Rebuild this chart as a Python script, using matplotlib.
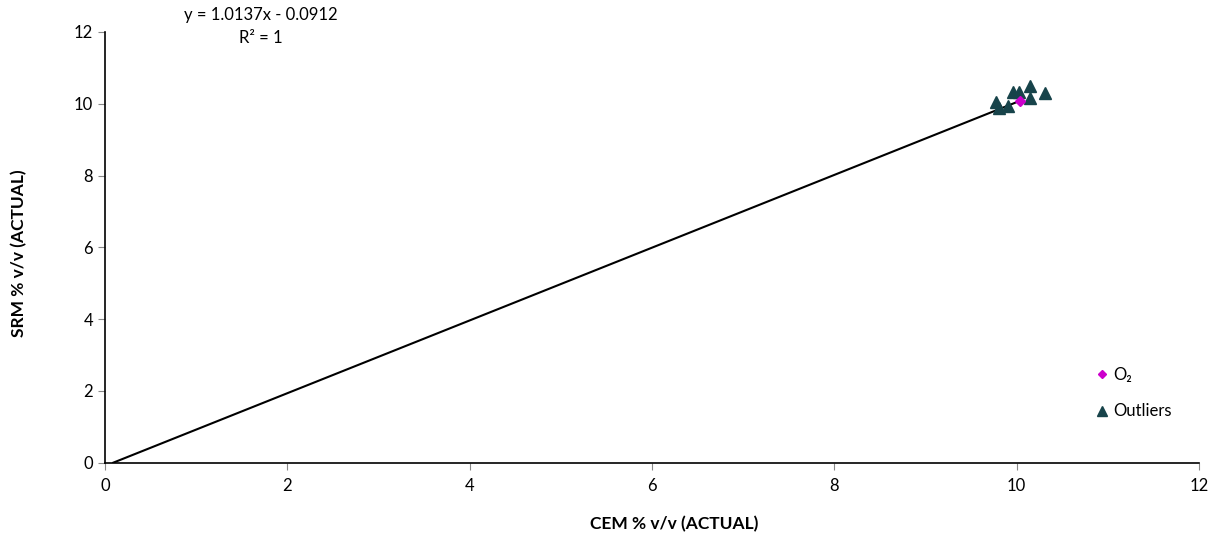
import matplotlib.pyplot as plt

plt.rcParams['font.family'] = ['Lato', 'DejaVu Sans']

# --- DATA ---
o2_x = [10.04]
o2_y = [10.09]
outlier_x = [9.77, 9.81, 9.90, 9.96, 10.03, 10.15, 10.15, 10.31]
outlier_y = [10.06, 9.87, 9.93, 10.32, 10.32, 10.49, 10.15, 10.30]

slope = 1.0137
intercept = -0.0912
trend_x = [0.09, 10.04]

W, H = 1218, 537
fig = plt.figure(figsize=(W / 100, H / 100), dpi=100)
ax = fig.add_axes([105 / W, 1 - 462.7 / H, 1094 / W, 430.7 / H])

trend_y = [slope * x + intercept for x in trend_x]
ax.plot(trend_x, trend_y, color='black', lw=1.5, zorder=2)
ax.plot(outlier_x, outlier_y, linestyle='none', marker='^', markersize=9,
        color='#17434A', label='Outliers', zorder=3)
ax.plot(o2_x, o2_y, linestyle='none', marker='D', markersize=5,
        color='#CC00CC', label='O₂', zorder=4)

ax.set_xlim(0, 12)
ax.set_ylim(0, 12)
ax.set_xticks(range(0, 13, 2))
ax.set_yticks(range(0, 13, 2))
ax.tick_params(direction='out', length=5, color='#888888', labelsize=12)
ax.tick_params(axis='x', pad=6)
for side in ['top', 'right']:
    ax.spines[side].set_visible(False)
for side in ['left', 'bottom']:
    ax.spines[side].set_linewidth(1.2)

# axis titles placed in pixel terms
fig.text(674 / W, 1 - 524 / H, 'CEM % v/v (ACTUAL)', ha='center', va='center',
         fontsize=12.5, fontweight='bold')
fig.text(19 / W, 1 - 253 / H, 'SRM % v/v (ACTUAL)', ha='center', va='center',
         rotation=90, fontsize=12.5, fontweight='bold')

# trendline annotation
fig.text(261 / W, 1 - 15 / H, f'y = {slope:.4f}x - {abs(intercept):.4f}',
         ha='center', va='center', fontsize=12)
fig.text(261 / W, 1 - 38 / H, 'R² = 1', ha='center', va='center', fontsize=12)

handles, labels = ax.get_legend_handles_labels()
leg = ax.legend(handles[::-1], labels[::-1], loc='upper left', frameon=False,
                bbox_to_anchor=(1085 / W, 1 - 360 / H),
                bbox_transform=fig.transFigure, fontsize=12, markerscale=0.8,
                handletextpad=0.1, labelspacing=1.25, handlelength=1.2,
                borderaxespad=0)

fig.savefig('out.png', dpi=100)
